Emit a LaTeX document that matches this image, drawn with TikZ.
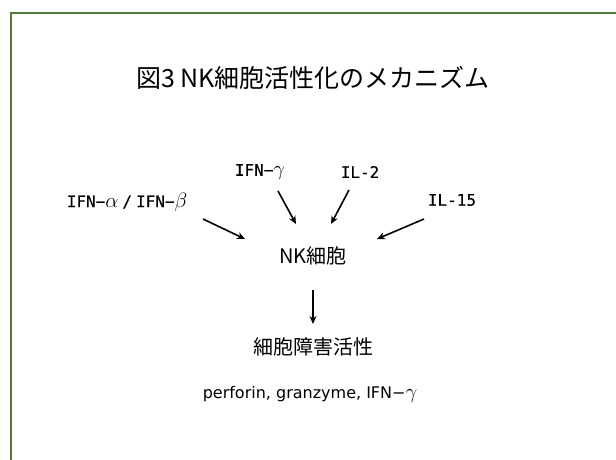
\documentclass[tikz,border=0pt]{standalone}
\usepackage{fontspec}
\setmainfont{Noto Sans CJK JP}
\newfontfamily\monof[FakeBold=0.3]{DejaVu Sans Mono}
\newfontfamily\latf{DejaVu Sans}
\newcommand\gk[1]{{\fontsize{21}{21}\selectfont$#1$}}
\usetikzlibrary{arrows.meta}
\definecolor{framegreen}{RGB}{84,122,56}
\tikzset{
  lbl/.style={inner sep=0pt, font=\monof\fontsize{16}{18}\selectfont},
  jp/.style={inner sep=0pt, font=\fontsize{20}{24}\selectfont},
  arr/.style={line width=1.6pt, -{Stealth[length=8pt,width=7pt]}},
}
\begin{document}
\begin{tikzpicture}[x=1pt,y=-1pt]
\clip (0,0) rectangle (616,459);
\useasboundingbox (0,0) rectangle (616,459);
\fill[white] (0,0) rectangle (616,459);
\draw[framegreen, line width=2pt] (11,13) rectangle (650,500);
\node[inner sep=0pt, font=\fontsize{25}{30}\selectfont] (title) at (313,78) {図3 NK細胞活性化のメカニズム};
\node[lbl] (ifnab) at (127,202) {IFN−\gk{\alpha}\hspace{4pt}/\hspace{4pt}IFN−\gk{\beta}};
\node[lbl] (ifng) at (260,172) {IFN−\gk{\gamma}};
\node[lbl] (il2) at (360,172) {IL-2};
\node[lbl] (il15) at (452,200) {IL-15};
\node[jp] (nk) at (313,256) {NK細胞};
\node[jp] (cyto) at (313,347) {細胞障害活性};
\node[inner sep=0pt, font=\latf\fontsize{16}{18}\selectfont] (perf) at (310,394) {perforin, granzyme, IFN−\gk{\gamma}};
\coordinate (s1) at (203,219); \coordinate (e1) at (245,239);
\coordinate (s2) at (278,191); \coordinate (e2) at (296,224);
\coordinate (s3) at (349,190); \coordinate (e3) at (331,224);
\coordinate (s4) at (424,219); \coordinate (e4) at (377,239);
\coordinate (s5) at (313,290); \coordinate (e5) at (313,324);
\draw[arr] (s1) -- (e1);
\draw[arr] (s2) -- (e2);
\draw[arr] (s3) -- (e3);
\draw[arr] (s4) -- (e4);
\draw[arr] (s5) -- (e5);
\end{tikzpicture}
\end{document}
